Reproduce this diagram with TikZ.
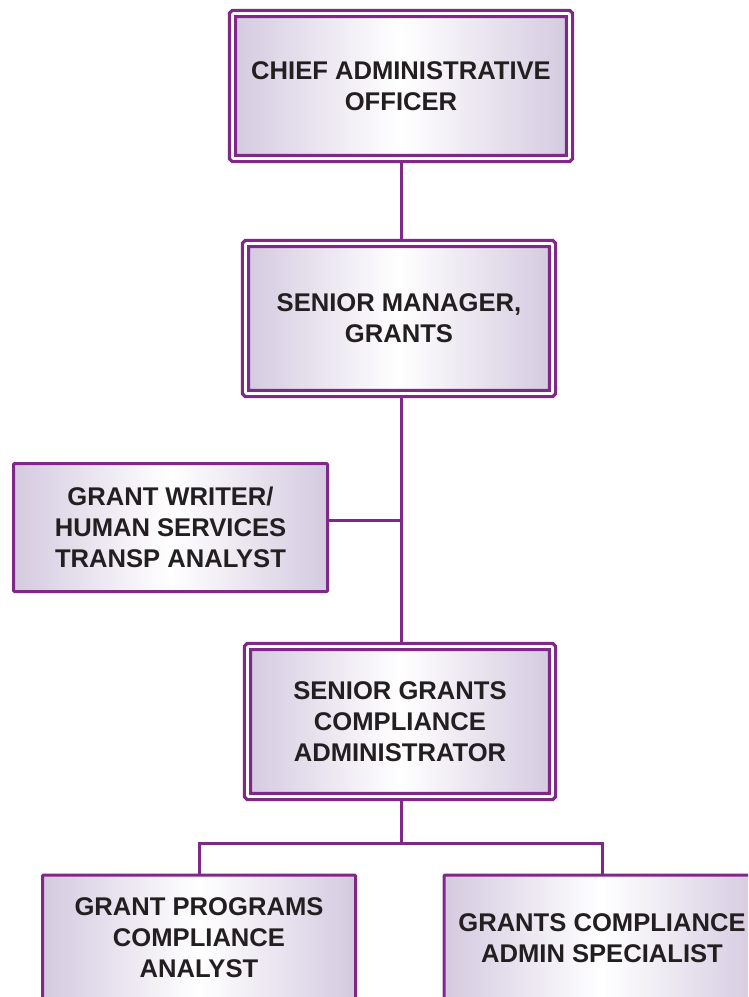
\documentclass[tikz,border=0pt]{standalone}
\usepackage{fontspec}
\setmainfont{Liberation Sans}
\begin{document}
\definecolor{orgpurple}{RGB}{128,40,135}
\definecolor{orglav}{RGB}{212,202,224}
\definecolor{orgtext}{RGB}{35,31,32}
\begin{tikzpicture}[x=1pt,y=-1pt,
  box/.style={rectangle, rounded corners=1pt, align=center, inner sep=0pt,
    left color=orglav, right color=orglav, middle color=white,
    draw=orgpurple, line width=3pt, text=orgtext,
    font=\bfseries\fontsize{25.6}{31}\selectfont},
  dbox/.style={box, line width=3.4pt, double=white, double distance=2.6pt},
  link/.style={draw=orgpurple, line width=3pt}]
\useasboundingbox (0,0) rectangle (748,997);
\clip (0,0) rectangle (748,997);

% upper chain of command
\node[dbox, minimum width=337, minimum height=145] (ceo) at (401,86)
  {CHIEF ADMINISTRATIVE\\OFFICER};
\node[dbox, minimum width=307, minimum height=150] (mgr) at (399,318.5)
  {SENIOR MANAGER,\\GRANTS};
\node[box, minimum width=314, minimum height=128] (gw) at (170.5,527.5)
  {GRANT WRITER/\\HUMAN SERVICES\\TRANSP ANALYST};
\node[dbox, minimum width=305, minimum height=150] (sgca) at (400,721.5)
  {SENIOR GRANTS\\COMPLIANCE\\ADMINISTRATOR};

% staff level
\node[box, minimum width=313, minimum height=126, anchor=north] (gpca) at (199,873.5)
  {GRANT PROGRAMS\\COMPLIANCE\\ANALYST};
\node[box, minimum width=316, minimum height=126, anchor=north] (gcas) at (602,873.5)
  {GRANTS COMPLIANCE\\ADMIN SPECIALIST};

% reporting lines
\coordinate (trunk) at (401,520);
\coordinate (bus) at (401,843);
\draw[link] (ceo.south -| trunk) -- (mgr.north -| trunk);
\draw[link] (mgr.south -| trunk) -- (sgca.north -| trunk);
\draw[link] (gw.east |- trunk) -- (trunk);
\draw[link] (sgca.south -| bus) -- (bus);
\draw[link] (gpca.north) -- (gpca.north |- bus) -- (gcas.north |- bus) -- (gcas.north);
\end{tikzpicture}
\end{document}
